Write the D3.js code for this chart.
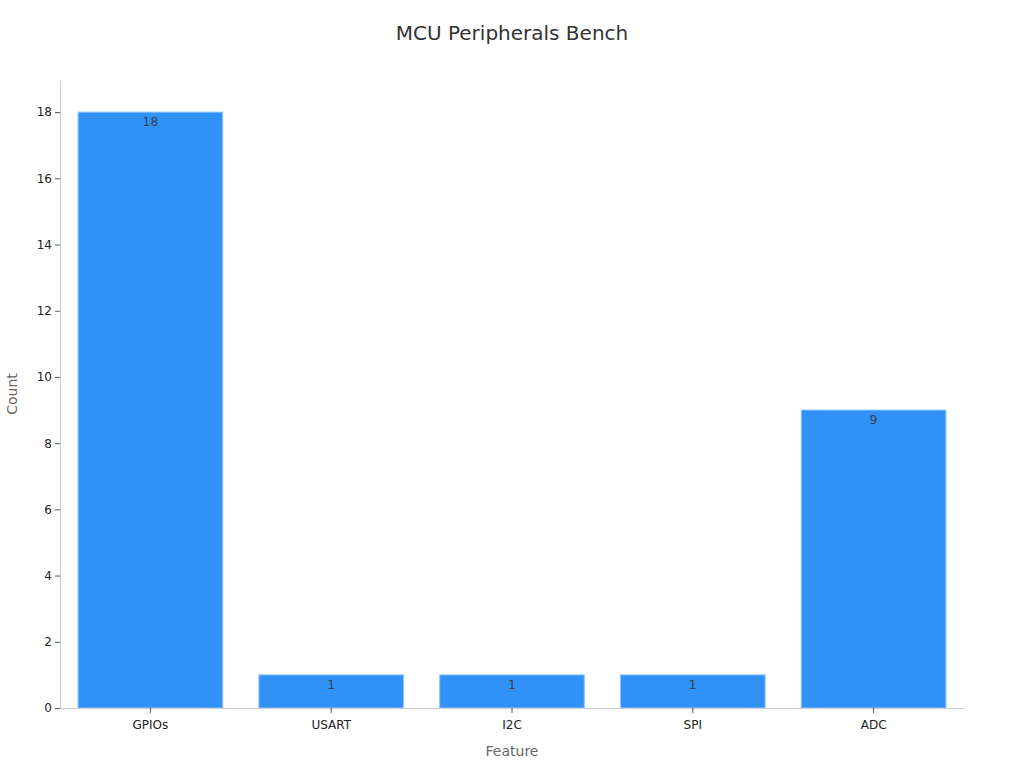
<!DOCTYPE html>
<html lang="en">
  <head>
    <meta charset="UTF-8" />
    <title>MCU Peripherals Bench</title>
    <script src="https://d3js.org/d3.v7.min.js"></script>
    <style>
      html,
      body {
        margin: 0;
        padding: 0;
        background: #fff;
      }
      text {
        font-family: "DejaVu Sans", sans-serif;
      }
    </style>
  </head>
  <body>
    <div id="viz"></div>
    <script>
      // chart data
      const features = ["GPIOs", "USART", "I2C", "SPI", "ADC"];
      const counts = [18, 1, 1, 1, 9];
      const yTicks = [0, 2, 4, 6, 8, 10, 12, 14, 16, 18];

      const width = 1024;
      const height = 768;
      const margin = { top: 80, right: 60, bottom: 60, left: 60 };

      const svg = d3
        .select("#viz")
        .append("svg")
        .attr("width", width)
        .attr("height", height);

      const xScale = d3
        .scaleBand()
        .domain(features)
        .range([margin.left, width - margin.right])
        .paddingInner(0.2)
        .paddingOuter(0.1);

      const yScale = d3
        .scaleLinear()
        .domain([0, 18.97])
        .range([height - margin.bottom, margin.top]);

      // title
      svg
        .append("text")
        .attr("x", width / 2)
        .attr("y", 40)
        .attr("text-anchor", "middle")
        .style("font-size", "20px")
        .style("fill", "#333")
        .text("MCU Peripherals Bench");

      // bars
      svg
        .selectAll("rect.bar")
        .data(features)
        .join("rect")
        .attr("class", "bar")
        .attr("x", (d) => xScale(d))
        .attr("y", (d, i) => yScale(counts[i]))
        .attr("width", xScale.bandwidth())
        .attr("height", (d, i) => yScale(0) - yScale(counts[i]))
        .attr("fill", "#3092f8")
        .attr("stroke", "#8fc3fb")
        .attr("stroke-width", 1);

      // value labels
      svg
        .selectAll("text.val")
        .data(features)
        .join("text")
        .attr("class", "val")
        .attr("x", (d) => xScale(d) + xScale.bandwidth() / 2)
        .attr("y", (d, i) => yScale(counts[i]) + 14)
        .attr("text-anchor", "middle")
        .style("font-size", "12.5px")
        .style("fill", "#3a3f4a")
        .text((d, i) => counts[i]);

      // x axis
      const xAxis = svg
        .append("g")
        .attr("transform", `translate(0,${yScale(0)})`)
        .call(d3.axisBottom(xScale).tickSize(5).tickSizeOuter(0));
      xAxis
        .select(".domain")
        .attr("stroke", "#ccc")
        .attr("d", `M${margin.left},0.5H${width - margin.right}`);
      xAxis.selectAll(".tick line").attr("stroke", "#555");
      xAxis
        .selectAll(".tick text")
        .attr("dy", "1.05em")
        .style("font-size", "12px")
        .style("font-family", "DejaVu Sans")
        .style("fill", "#222");

      // y axis
      const yAxis = svg
        .append("g")
        .attr("transform", `translate(${margin.left},0)`)
        .call(d3.axisLeft(yScale).tickValues(yTicks).tickSize(5).tickSizeOuter(0));
      yAxis.select(".domain").attr("stroke", "#ccc");
      yAxis.selectAll(".tick line").attr("stroke", "#555");
      yAxis
        .selectAll(".tick text")
        .attr("x", -8)
        .style("font-size", "12px")
        .style("font-family", "DejaVu Sans")
        .style("fill", "#222");

      // axis titles
      svg
        .append("text")
        .attr("x", (margin.left + width - margin.right) / 2)
        .attr("y", 756)
        .attr("text-anchor", "middle")
        .style("font-size", "14px")
        .style("fill", "#666")
        .text("Feature");

      svg
        .append("text")
        .attr("transform", `translate(17,${(margin.top + height - margin.bottom) / 2}) rotate(-90)`)
        .attr("text-anchor", "middle")
        .style("font-size", "14px")
        .style("fill", "#666")
        .text("Count");
    </script>
  </body>
</html>
